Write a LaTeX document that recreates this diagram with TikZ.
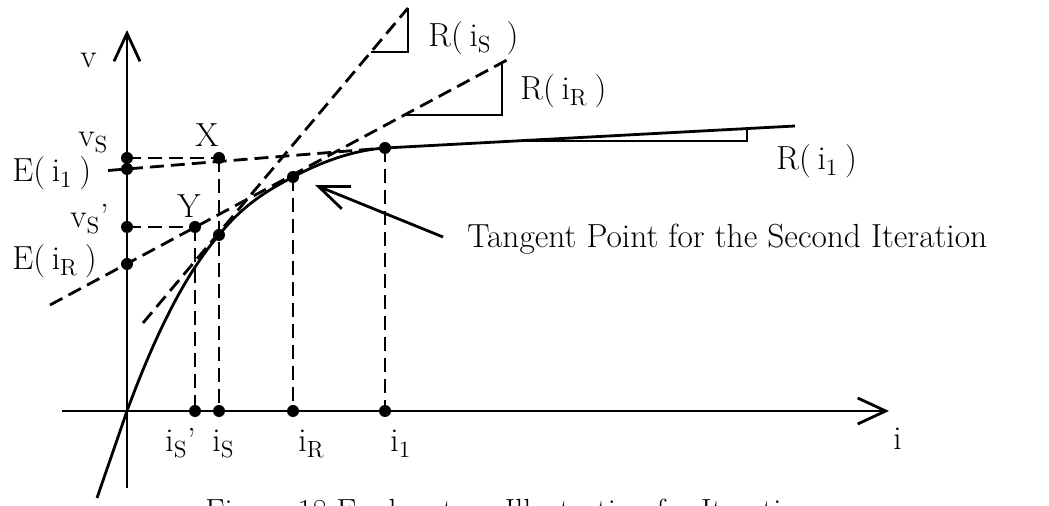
\documentclass[tikz,border=0pt]{standalone}
\usepackage{fontspec}
\usepackage{tikz}
\usetikzlibrary{arrows.meta}
\newcommand{\iS}{i\textsubscript{S}}
\newcommand{\iR}{i\textsubscript{R}}
\newcommand{\vS}{v\textsubscript{S}}
\newcommand{\gap}{\hspace{.2em}}

\begin{document}
\begin{tikzpicture}[
    x=0.5pt, y=-0.5pt,
    every node/.style={font=\fontsize{16.7}{20}\selectfont, inner sep=0pt},
    lbl/.style={anchor=base west},
    pt/.style={circle, fill, minimum size=6pt},
    axis/.style={line width=1.4pt, -{Straight Barb[length=14pt,width=13pt]}},
    curve/.style={line width=1.4pt},
    guide/.style={line width=1.4pt, dash pattern=on 7pt off 3.5pt},
    tri/.style={line width=1.2pt},
    pointer/.style={line width=1.4pt, -{Straight Barb[length=15pt,width=12pt]}},
]
  \useasboundingbox (0,0) rectangle (1049,506);
  \clip (0,0) rectangle (1049,506);
  % Axes
  \coordinate (vbot) at (127,488);
  \coordinate (vtop) at (127,30);
  \coordinate (ileft) at (62,411);
  \coordinate (iright) at (889,411);
  \draw[axis] (vbot) -- (vtop);
  \draw[axis] (ileft) -- (iright);
  % Points on the v axis
  \node[pt] (vS)  at (127,158) {};
  \node[pt] (E1)  at (127,169) {};
  \node[pt] (vSp) at (127,227) {};
  \node[pt] (ER)  at (127,264) {};
  % Points on the curve and the tangents
  \node[pt] (X) at (219,158) {};
  \node[pt] (Y) at (195,227) {};
  \node[pt] (A) at (219,235) {};
  \node[pt] (B) at (293,177) {};
  \node[pt] (C) at (385,148) {};
  % Points on the i axis
  \node[pt] (iSp) at (195,411) {};
  \node[pt] (iS)  at (219,411) {};
  \node[pt] (iR)  at (293,411) {};
  \node[pt] (i1)  at (385,411) {};
  % Characteristic curve
  \coordinate (c0) at (97,498);
  \coordinate (O) at (127,411);
  \coordinate (r1end) at (795,126);
  \draw[curve] (c0) -- (O) .. controls (162,316) and (193,265) .. (A.center)
    .. controls (243,205) and (268,190) .. (B.center)
    .. controls (323,161) and (355,150) .. (C.center) -- (r1end);
  % Tangent R(i1)
  \coordinate (r1lo) at (108,170.5);
  \draw[guide] (r1lo) -- (C.center);
  \draw[tri] (515,141) -- (747,141) -- (747,128.6);
  % Tangent R(iR)
  \coordinate (rRlo) at (50,305);
  \coordinate (rRhi) at (507,60);
  \draw[guide] (rRlo) -- (rRhi);
  \draw[tri] (404,115) -- (502,115) -- (502,63);
  % Tangent R(iS)
  \coordinate (rSlo) at (143,323);
  \coordinate (rShi) at (408,8);
  \draw[guide] (rSlo) -- (rShi);
  \draw[tri] (371,52) -- (408,52) -- (rShi);
  % Projections
  \draw[guide] (vS.center) -- (X.center);
  \draw[guide] (vSp.center) -- (Y.center);
  \draw[guide] (X.center) -- (iS.center);
  \draw[guide] (Y.center) -- (iSp.center);
  \draw[guide] (B.center) -- (iR.center);
  \draw[guide] (C.center) -- (i1.center);
  % Labels
  \node[lbl] (lv)   at (80,68)   {v};
  \node[lbl] (lvS)  at (78,147)  {\vS};
  \node[lbl] (lE1)  at (12,182)  {E(\gap i\textsubscript{1}\gap)};
  \node[lbl] (lvSp) at (70,228)  {\vS'};
  \node[lbl] (lER)  at (12,270)  {E(\gap\iR\gap)};
  \node[lbl] (lX)   at (195,147) {X};
  \node[lbl] (lY)   at (177,218) {Y};
  \node[lbl] (lRS)  at (428,47)  {R(\gap\iS\hspace{.45em})};
  \node[lbl] (lRR)  at (520,100) {R(\gap\iR\gap)};
  \node[lbl] (lR1)  at (776,170) {R(\gap i\textsubscript{1}\gap)};
  \node[lbl] (liSp) at (165,452) {\iS'};
  \node[lbl] (liS)  at (212,452) {\iS};
  \node[lbl] (liR)  at (298,452) {\iR};
  \node[lbl] (li1)  at (390,452) {i\textsubscript{1}};
  \node[lbl] (li)   at (893,450) {i};
  \node[lbl] (ltan) at (467,248) {Tangent Point for the Second Iteration};
  \coordinate (ptail) at (443,237);
  \coordinate (ptip) at (315,185);
  \draw[pointer] (ptail) -- (ptip);
  % Caption (cut off by the page edge)
  \node[lbl, font=\fontsize{16}{19}\selectfont] (cap) at (205,522)
    {Figure 18 Explanatory Illustration for Iteration};
\end{tikzpicture}
\end{document}
